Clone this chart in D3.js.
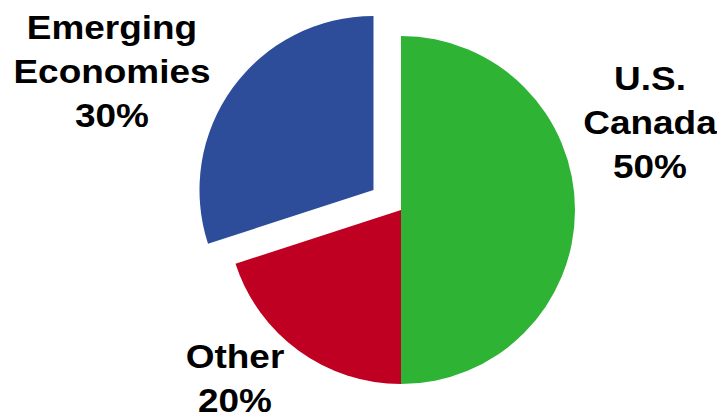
<!DOCTYPE html>
<html lang="en">
<head>
  <meta charset="UTF-8" />
  <title>Revenue by Region</title>
  <style>
    body { margin: 0; background: #fff; }
    text { font-family: "Liberation Sans", Arial, sans-serif; font-weight: bold; }
  </style>
  <script src="https://d3js.org/d3.v7.min.js"></script>
</head>
<body>
  <script>
    // chart data
    const regions = ["U.S.\nCanada", "Other", "Emerging\nEconomies"];
    const shares = [50, 20, 30];
    const sliceColors = ["#2eb335", "#bf0022", "#2d4d9a"];
    const exploded = [false, false, true];

    const width = 717, height = 416;
    const cx = 401, cy = 210, radius = 174, explode = 34;

    // label anchor points (relative to pie centre), one per slice
    const labelSpots = [[249, -88], [-166, 168], [-289, -139]];

    const svg = d3.select("body").append("svg")
      .attr("width", width)
      .attr("height", height);

    const g = svg.append("g")
      .attr("transform", "translate(" + cx + "," + cy + ")");

    const pie = d3.pie().sort(null).value(d => d);
    const arcs = pie(shares);
    const arc = d3.arc().innerRadius(0).outerRadius(radius);

    g.selectAll("path")
      .data(arcs)
      .enter()
      .append("path")
      .attr("d", arc)
      .attr("fill", (d, i) => sliceColors[i])
      .attr("transform", (d, i) => {
        if (!exploded[i]) return null;
        const mid = (d.startAngle + d.endAngle) / 2;
        return "translate(" + (Math.sin(mid) * explode) + "," + (-Math.cos(mid) * explode) + ")";
      });

    // labels look a bit wide in the original, so stretch them horizontally
    const lineH = 44;
    arcs.forEach((d, i) => {
      const lines = regions[i].split("\n").concat([shares[i] + "%"]);
      const t = g.append("text")
        .attr("text-anchor", "middle")
        .attr("font-size", 33)
        .attr("fill", "#000")
        .attr("transform", "translate(" + labelSpots[i][0] + "," + labelSpots[i][1] + ") scale(1.12,1)");
      const y0 = -(lines.length - 1) * lineH / 2;
      lines.forEach((ln, j) => {
        t.append("tspan")
          .attr("x", 0)
          .attr("y", y0 + j * lineH)
          .attr("dy", "0.35em")
          .text(ln);
      });
    });
  </script>
</body>
</html>
